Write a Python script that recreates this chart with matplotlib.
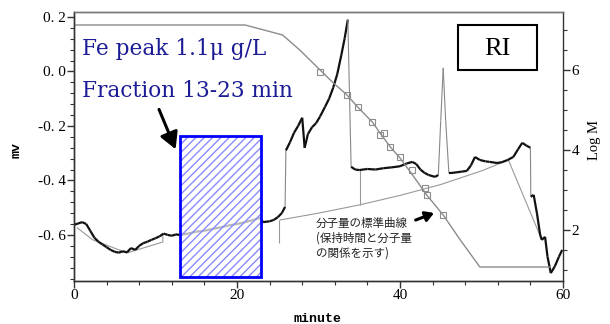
import numpy as np
import matplotlib
matplotlib.use('Agg')
import matplotlib.pyplot as plt
from matplotlib.collections import LineCollection
from matplotlib.patches import Rectangle

# RI detector trace (minute, mV)
ri_time = [0.0, 0.5, 1.0, 1.5, 2.0, 2.5, 3.0, 3.5, 4.0, 4.5, 5.0, 5.5, 6.0, 6.5,
           7.0, 7.5, 8.0, 8.5, 9.0, 9.5, 10.0, 10.5, 11.0, 11.5, 12.0, 12.5, 13.0,
           14.0, 15.0, 16.0, 17.0, 18.0, 19.0, 20.0, 21.0, 22.0, 22.8, 23.2, 24.0,
           24.5, 25.0, 25.5, 25.9, 26.0, 26.5, 27.0, 27.5, 28.0, 28.3, 28.7, 29.2,
           29.7, 30.2, 30.8, 31.3, 31.8, 32.3, 32.8, 33.2, 33.6, 34.0, 34.5, 35.0,
           36.0, 37.0, 38.0, 39.0, 40.0, 40.8, 41.5, 42.0, 42.5, 43.0, 43.5, 44.3,
           44.7, 45.0, 45.3, 45.6, 46.0, 46.5, 47.0, 47.5, 48.2, 48.7, 49.2, 49.8,
           50.5, 51.0, 51.9, 52.5, 53.2, 53.9, 54.5, 55.0, 55.5, 56.0, 56.05, 56.4,
           56.8, 57.2, 57.4, 57.8, 58.1, 58.5, 59.0, 59.5, 59.9]
ri_mv = [-0.563, -0.558, -0.553, -0.560, -0.585, -0.610, -0.625, -0.635, -0.645,
         -0.655, -0.662, -0.665, -0.660, -0.664, -0.648, -0.655, -0.640, -0.630,
         -0.625, -0.618, -0.612, -0.605, -0.595, -0.600, -0.603, -0.598, -0.600,
         -0.595, -0.588, -0.585, -0.578, -0.572, -0.565, -0.560, -0.553, -0.545,
         -0.537, -0.553, -0.550, -0.545, -0.535, -0.520, -0.497, -0.290, -0.260,
         -0.225, -0.200, -0.170, -0.280, -0.230, -0.205, -0.190, -0.165, -0.130,
         -0.100, -0.060, -0.010, 0.060, 0.120, 0.190, -0.350, -0.360, -0.362,
         -0.358, -0.360, -0.355, -0.352, -0.348, -0.338, -0.332, -0.340, -0.360,
         -0.372, -0.380, -0.387, -0.380, -0.180, 0.013, -0.180, -0.373, -0.372,
         -0.370, -0.368, -0.365, -0.345, -0.314, -0.325, -0.330, -0.332, -0.336,
         -0.333, -0.325, -0.314, -0.285, -0.262, -0.272, -0.280, -0.460, -0.453,
         -0.520, -0.600, -0.618, -0.607, -0.680, -0.740, -0.715, -0.680, -0.655]

# baselines drawn under the trace (minute, mV)
base1_time = [0.4, 2.3, 6.5, 10.9, 10.9]
base1_mv = [-0.574, -0.618, -0.666, -0.626, -0.600]
base2_time = [25.3, 30.0, 35.0, 40.0, 45.0, 50.0, 53.3, 57.4]
base2_mv = [-0.545, -0.520, -0.490, -0.455, -0.415, -0.365, -0.325, -0.618]
drop_time = [25.2, 35.1]
drop_top = [-0.545, -0.360]
drop_bottom = [-0.630, -0.490]

# molecular weight calibration curve (minute, log M)
cal_time = [0.0, 21.0, 25.6, 27.7, 30.2, 31.8, 33.5, 34.8, 36.6, 37.5, 38.8,
            40.0, 41.2, 42.5, 43.3, 45.3, 47.4, 49.8, 58.4]
cal_logm = [7.125, 7.125, 6.875, 6.50, 6.0, 5.68, 5.375, 5.075, 4.70, 4.44,
            4.08, 3.80, 3.47, 3.10, 2.87, 2.375, 1.75, 1.075, 1.075]
std_time = [30.2, 33.5, 34.8, 36.6, 37.5, 38.0, 38.8, 40.0, 41.5, 43.1, 43.3, 45.3]
std_logm = [5.95, 5.375, 5.075, 4.70, 4.375, 4.425, 4.075, 3.825, 3.50, 3.05, 2.875, 2.375]

fraction = (13, 23)
box_mv = (-0.755, -0.237)

left_ticks = [-0.6, -0.4, -0.2, 0.0, 0.2]
left_labels = ['-0. 6', '-0. 4', '-0. 2', '0. 0', '0. 2']
right_ticks = [2, 4, 6]
x_ticks = [0, 20, 40, 60]

fig = plt.figure(figsize=(6.1, 3.24), dpi=100)
ax = fig.add_axes([74 / 610, 43 / 324, 489 / 610, 269 / 324])
ax2 = ax.twinx()

serif = 'Liberation Serif'
navy = '#1c1c96'

ax.set_xlim(0, 60)
ax.set_ylim(-0.769, 0.218)
ax2.set_ylim(0.725, 7.45)

# trace: steep parts show thin and grey like the scanned pen trace
pts = np.column_stack([ri_time, ri_mv])
segs = np.stack([pts[:-1], pts[1:]], axis=1)
slope = np.abs(np.diff(ri_mv) / np.diff(ri_time))
steep = slope > 0.4
lc = LineCollection(segs, colors=np.where(steep, '#888888', '#111111'),
                    linewidths=np.where(steep, 0.8, 1.6), zorder=2)
ax.add_collection(lc)

ax.plot(base1_time, base1_mv, color='#999999', lw=0.8, zorder=1)
ax.plot(base2_time, base2_mv, color='#999999', lw=0.8, zorder=1)
ax.vlines(drop_time, drop_bottom, drop_top, color='#999999', lw=0.8, zorder=1)

# fraction box
w = fraction[1] - fraction[0]
h = box_mv[1] - box_mv[0]
ax.add_patch(Rectangle((fraction[0], box_mv[0]), w, h, facecolor=(1, 1, 1, 0.7),
                       edgecolor='#8a8aff', hatch='////', lw=0, zorder=3))
ax.add_patch(Rectangle((fraction[0], box_mv[0]), w, h, facecolor='none',
                       edgecolor='#0000ff', lw=2, zorder=4))

ax2.plot(cal_time, cal_logm, color='#8c8c8c', lw=1.0, zorder=2)
ax2.plot(std_time, std_logm, ls='none', marker='s', ms=4, mfc='none',
         mec='#8c8c8c', mew=0.8, zorder=3)

# axes styling
for a in (ax, ax2):
    for s in a.spines.values():
        s.set_color('#333333')
        s.set_linewidth(1.0)
    a.spines['top'].set_color('#777777')
ax.spines['right'].set_visible(False)

ax.set_xticks(x_ticks)
ax.set_xticks(np.arange(0, 61, 4), minor=True)
ax.set_yticks(left_ticks)
ax.set_yticklabels(left_labels)
ax.set_yticks(np.arange(-0.76, 0.22, 0.04), minor=True)
ax2.set_yticks(right_ticks)
ax2.set_yticks(np.arange(1.0, 7.5, 0.5), minor=True)

for a in (ax, ax2):
    a.tick_params(which='major', direction='out', length=5, width=1, color='#333333',
                  labelsize=11, pad=1)
    a.tick_params(which='minor', direction='out', length=3, width=0.8, color='#333333')
    for lab in a.get_xticklabels() + a.get_yticklabels():
        lab.set_family(serif)

ax.set_xlabel('minute', family='Liberation Mono', fontweight='bold', fontsize=9.5)
ax.xaxis.set_label_coords(0.499, -0.119)
ax.set_ylabel('mv', family='Liberation Mono', fontweight='bold', fontsize=9.5)
ax.yaxis.set_label_coords(-0.106, 0.487)
ax2.set_ylabel('Log M', family=serif, fontsize=10.5, rotation=90)
ax2.yaxis.set_label_coords(1.051, 0.524)

# annotations
ax.text(0.016, 0.84, 'Fe peak 1.1\u03bc g/L', transform=ax.transAxes,
        family='DejaVu Serif', fontsize=15.6, color=navy, va='baseline')
ax.text(0.016, 0.684, 'Fraction 13-23 min', transform=ax.transAxes,
        family='DejaVu Serif', fontsize=15.6, color=navy, va='baseline')

ax.add_patch(Rectangle((0.785, 0.784), 0.162, 0.168, transform=ax.transAxes,
                       facecolor='white', edgecolor='black', lw=1.5, zorder=5))
ax.text(0.866, 0.862, 'RI', transform=ax.transAxes, family=serif, fontsize=19,
        ha='center', va='center', zorder=6)

ax.annotate('', xy=(12.6, -0.295), xytext=(10.3, -0.13),
            arrowprops=dict(arrowstyle='-|>,head_length=1.0,head_width=0.55',
                            color='black', lw=2.2), zorder=6)
ax.annotate('', xy=(44.5, -0.516), xytext=(41.6, -0.549),
            arrowprops=dict(arrowstyle='-|>,head_length=0.5,head_width=0.3',
                            color='black', lw=2.2), zorder=6)
ax.text(29.7, -0.535, '分子量の標準曲線\n(保持時間と分子量\nの関係を示す)',
        family=['Noto Sans CJK JP', 'DejaVu Sans'], fontsize=8.3, color='#222222',
        ha='left', va='top', linespacing=1.15, zorder=6)

fig.savefig('out.png', dpi=100)
